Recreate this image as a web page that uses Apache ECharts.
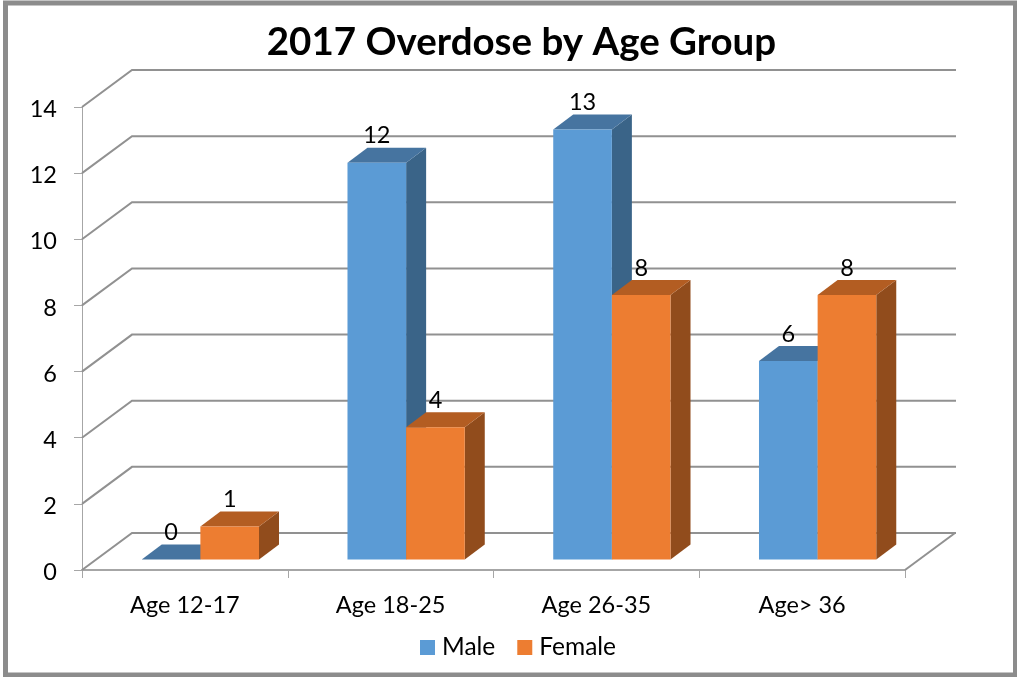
<!DOCTYPE html>
<html><head><meta charset="utf-8">
<style>html,body{margin:0;padding:0;background:#fff}#c{width:1017px;height:677px}</style>
<script src="https://cdn.jsdelivr.net/npm/echarts@6/dist/echarts.min.js"></script>
</head><body><div id="c"></div>
<script>
const categories = ['Age 12-17','Age 18-25','Age 26-35','Age> 36'];
const maleValues = [0,12,13,6];
const femaleValues = [1,4,8,8];
const yTicks = [0,2,4,6,8,10,12,14];
const FONT = 'Lato';
const chart = echarts.init(document.getElementById('c'));

const WALL_DX = 50, WALL_DY = -37, BAR_DX = 20, BAR_DY = -15, SHIFT_X = 15.5, SHIFT_Y = -10.5;
const GRID_COLOR = '#919191';

function wallItem(params, api){
  const v = api.value(1);
  const band = api.size([1,0])[0];
  const a = api.coord([0,v]), b = api.coord([categories.length-1,v]);
  const x0 = a[0]-band/2, x1 = b[0]+band/2, y = a[1];
  const style = {stroke:GRID_COLOR, lineWidth:2, fill:null};
  const children = [{type:'polyline', shape:{points:[[x0,y],[x0+WALL_DX,y+WALL_DY],[x1+WALL_DX+1,y+WALL_DY]]}, style}];
  if (v === 0) children.push({type:'line', shape:{x1:x1,y1:y,x2:x1+WALL_DX,y2:y+WALL_DY}, style});
  return {type:'group', children};
}

function barItem(side, colors){
  return function(params, api){
    const idx = api.value(0), v = api.value(1);
    const band = api.size([1,0])[0];
    const w = band*0.285;
    const c = api.coord([idx,v]), base = api.coord([idx,0]);
    const xl = c[0]+SHIFT_X+(side<0?-w:0), xr = xl+w;
    const yt = c[1]+SHIFT_Y, yb = base[1]+SHIFT_Y;
    return {type:'group', children:[
      {type:'polygon', shape:{points:[[xr,yt],[xr+BAR_DX,yt+BAR_DY],[xr+BAR_DX,yb+BAR_DY],[xr,yb]]}, style:{fill:colors[2]}},
      {type:'polygon', shape:{points:[[xl,yt],[xr,yt],[xr+BAR_DX,yt+BAR_DY],[xl+BAR_DX,yt+BAR_DY]]}, style:{fill:colors[1]}},
      {type:'rect', shape:{x:xl,y:yt,width:w,height:yb-yt}, style:{fill:colors[0]}},
      {type:'text', z2:100, style:{text:String(v), x:(xl+xr)/2, y:yt-27, align:'center', verticalAlign:'middle', fill:'#000', font:'23.5px '+FONT}}
    ]};
  };
}

const MALE = ['#5B9BD5','#4674A0','#3A6488'];
const FEMALE = ['#ED7D31','#B35D22','#914C1C'];

chart.setOption({
  animation:false,
  backgroundColor:'#fff',
  graphic:[{type:'rect', silent:true, z:-1, shape:{x:5.5,y:3,width:1010,height:672}, style:{fill:'none',stroke:'#8C8C8C',lineWidth:5}}],
  title:{text:'2017 Overdose by Age Group', left:516.5, top:18, textAlign:'center',
    textStyle:{fontFamily:FONT,fontWeight:'bold',fontSize:38.5,color:'#000'}},
  legend:{data:['Male','Female'], left:415, top:630, icon:'rect', itemWidth:15, itemHeight:15, itemGap:22,
    textStyle:{fontFamily:FONT,fontSize:24.5,color:'#000',padding:[0,0,0,2]}},
  grid:{left:82,right:112,top:107,bottom:107},
  xAxis:{type:'category', data:categories, boundaryGap:true,
    axisLine:{lineStyle:{color:'#A6A6A6',width:2}},
    axisTick:{show:true,length:8,alignWithLabel:false,lineStyle:{color:'#A6A6A6',width:1}},
    axisLabel:{color:'#000',fontFamily:FONT,fontSize:23.5,margin:23}},
  yAxis:{type:'value', min:0, max:14, interval:2, splitLine:{show:false},
    axisLine:{show:true,lineStyle:{color:'#A6A6A6',width:1}},
    axisTick:{show:true,length:8,lineStyle:{color:'#A6A6A6',width:1}},
    axisLabel:{color:'#000',fontFamily:FONT,fontSize:23.5,margin:25,verticalAlign:'top',lineHeight:5}},
  series:[
    {type:'custom', silent:true, z:1, renderItem:wallItem, data:yTicks.map(v=>[0,v]), encode:{x:0,y:1}},
    {type:'custom', name:'Male', z:2, itemStyle:{color:MALE[0]}, renderItem:barItem(-1,MALE), data:maleValues.map((v,i)=>[i,v]), encode:{x:0,y:1}},
    {type:'custom', name:'Female', z:3, itemStyle:{color:FEMALE[0]}, renderItem:barItem(1,FEMALE), data:femaleValues.map((v,i)=>[i,v]), encode:{x:0,y:1}}
  ]
});
</script></body></html>
